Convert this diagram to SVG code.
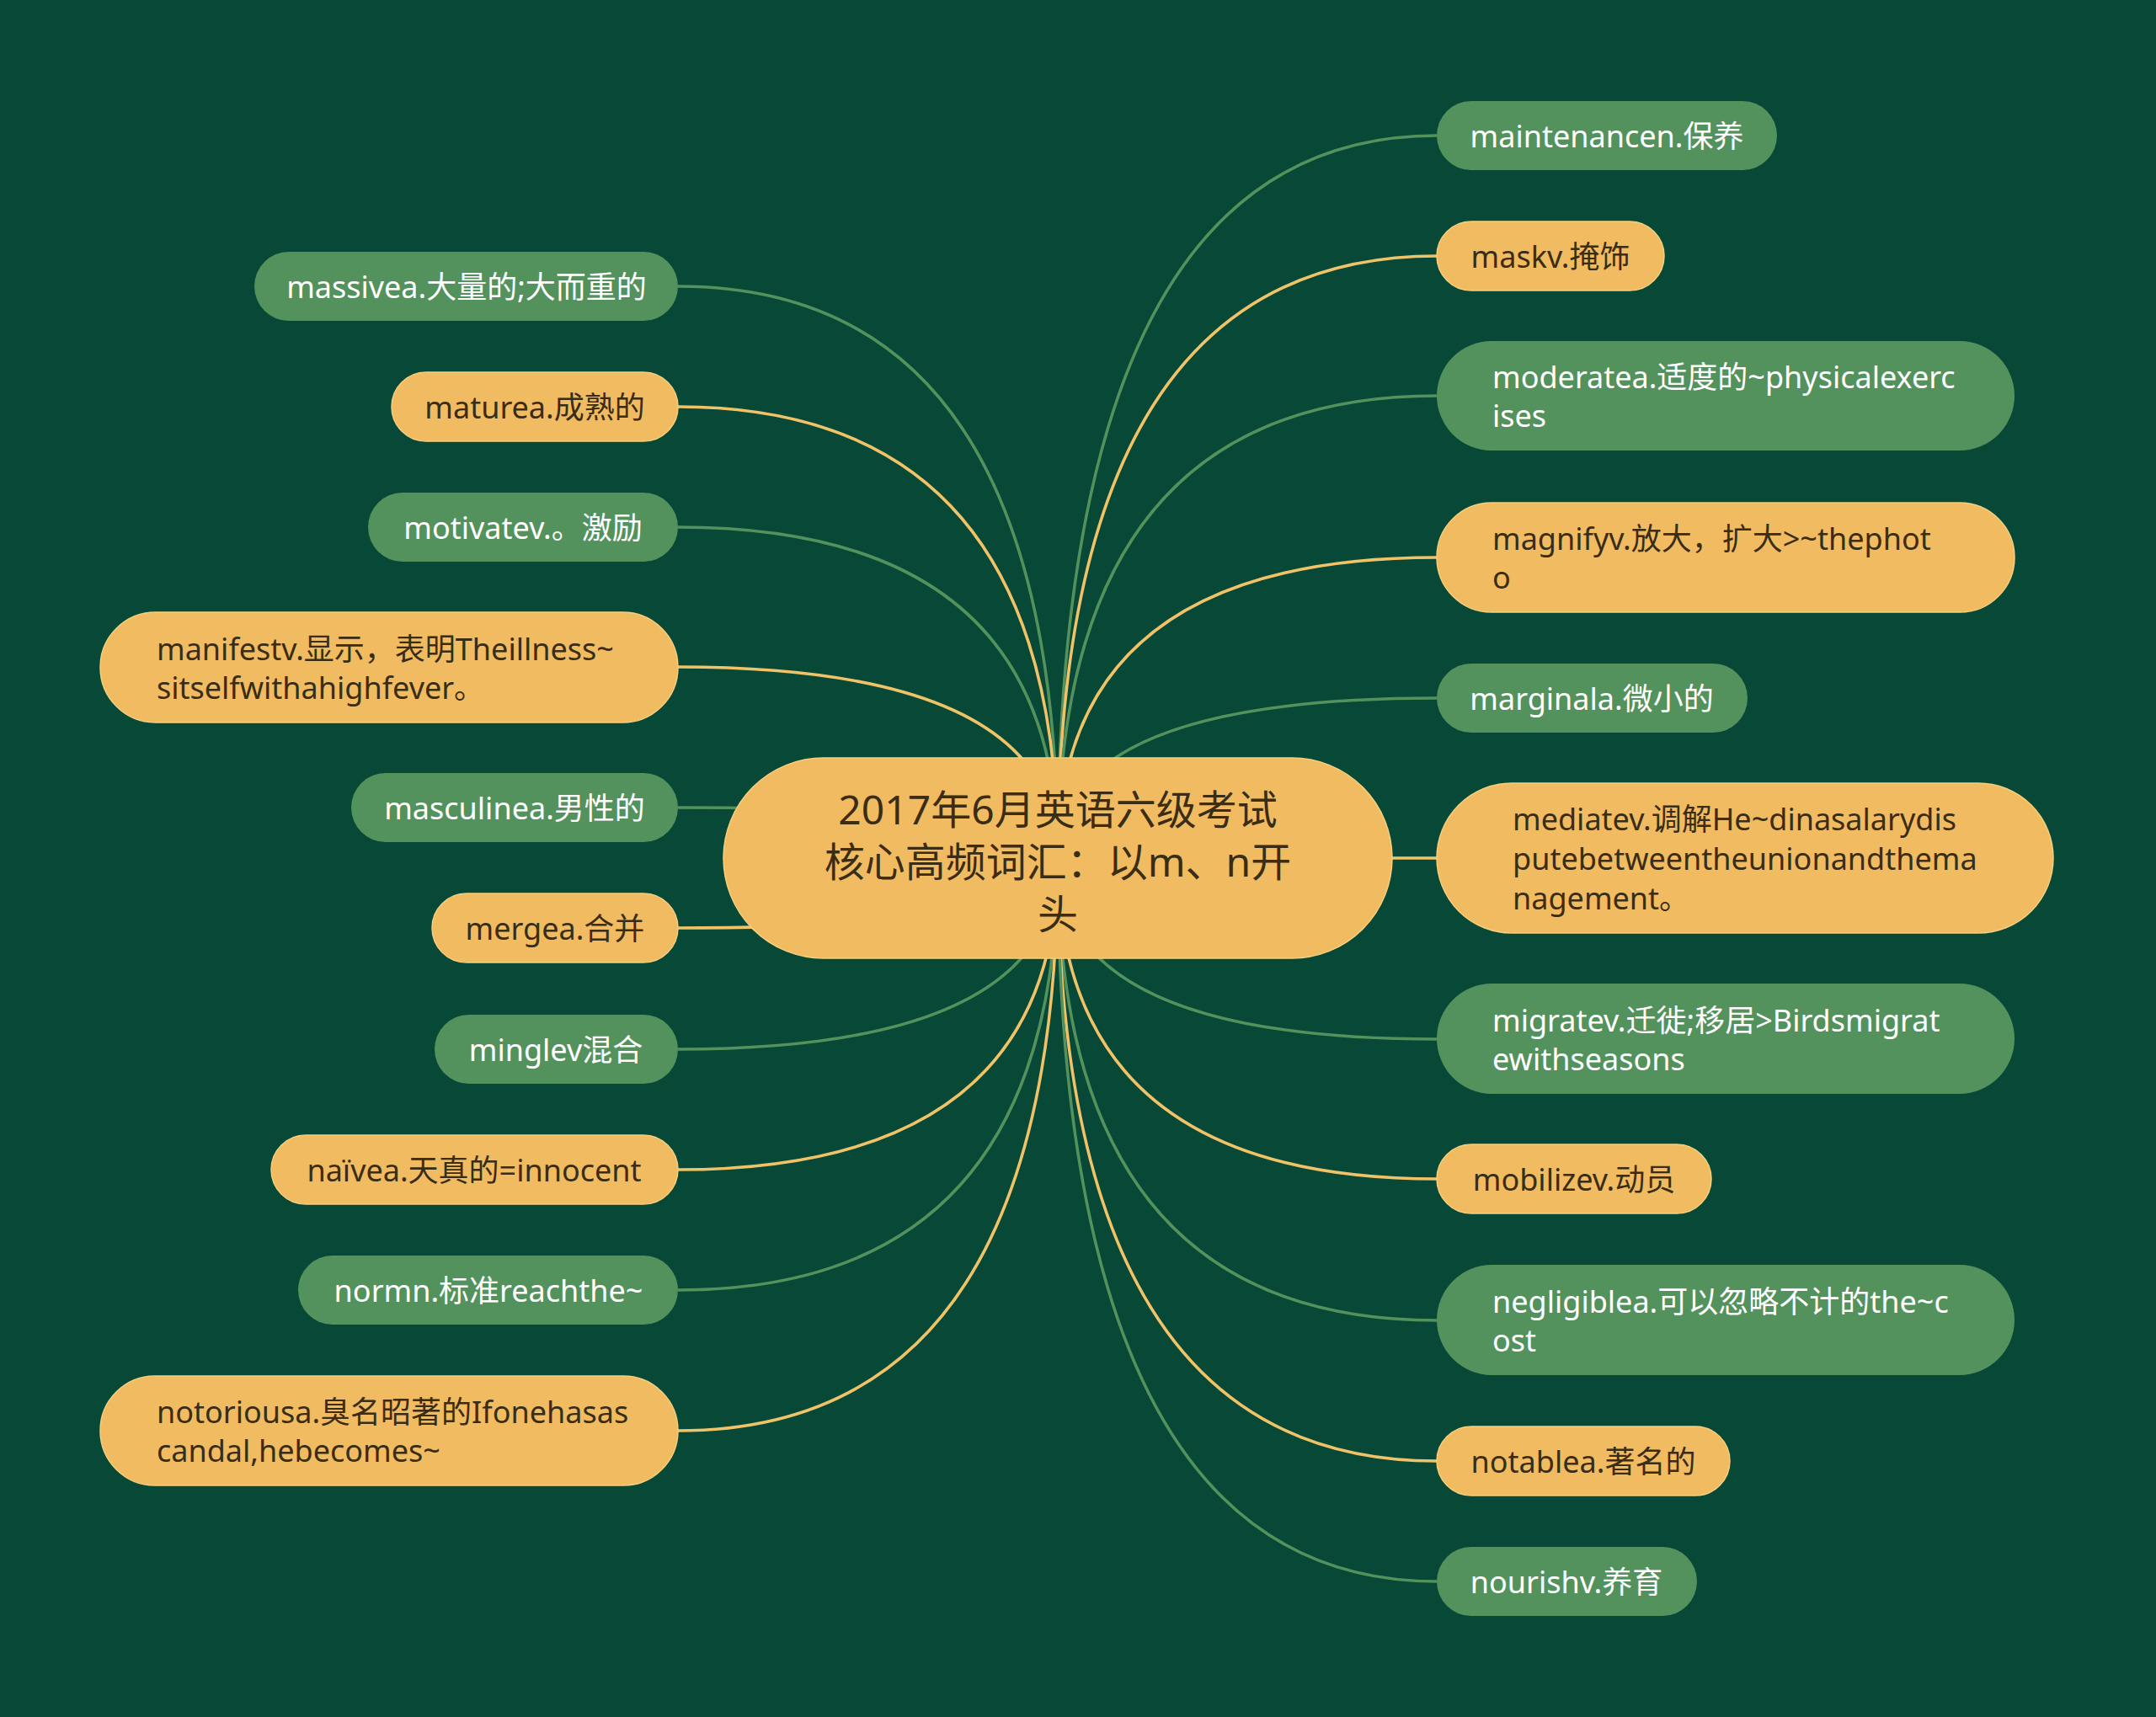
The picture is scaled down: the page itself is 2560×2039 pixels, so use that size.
<svg xmlns="http://www.w3.org/2000/svg" width="2560" height="2039" viewBox="0 0 2560 2039">
<style>
.bg{fill:#084837}
.g{fill:#54925d}
.o{fill:#f1bb62;stroke:#f6cf7c;stroke-width:1.5}
.lg{fill:none;stroke:#54925d;stroke-width:3.5}
.lo{fill:none;stroke:#f1c368;stroke-width:3.5}
text{font-family:"Noto Sans","Noto Sans CJK SC",sans-serif;font-size:36px;dominant-baseline:central}
.tw{fill:#ffffff}
.td{fill:#3a2d14}
.c{text-anchor:middle}
.root{font-size:48px;fill:#3a2d14;text-anchor:middle}
</style>
<rect class="bg" x="0" y="0" width="2560" height="2039"/>
<g id="connectors">
<path class="lg" d="M1256 1019 Q1256 340 805 340"/>
<path class="lo" d="M1256 1019 Q1256 483 805 483"/>
<path class="lg" d="M1256 1019 Q1256 626 805 626"/>
<path class="lo" d="M1256 1019 Q1256 792 805 792"/>
<path class="lg" d="M1256 1019 Q1256 959 805 959"/>
<path class="lo" d="M1256 1019 Q1256 1102 805 1102"/>
<path class="lg" d="M1256 1019 Q1256 1246 805 1246"/>
<path class="lo" d="M1256 1019 Q1256 1389 805 1389"/>
<path class="lg" d="M1256 1019 Q1256 1532 805 1532"/>
<path class="lo" d="M1256 1019 Q1256 1699 805 1699"/>
<path class="lg" d="M1256 1019 Q1256 161 1706 161"/>
<path class="lo" d="M1256 1019 Q1256 304 1706 304"/>
<path class="lg" d="M1256 1019 Q1256 470 1706 470"/>
<path class="lo" d="M1256 1019 Q1256 662 1706 662"/>
<path class="lg" d="M1256 1019 Q1256 829 1706 829"/>
<path class="lo" d="M1256 1019 L1706 1019"/>
<path class="lg" d="M1256 1019 Q1256 1234 1706 1234"/>
<path class="lo" d="M1256 1019 Q1256 1400 1706 1400"/>
<path class="lg" d="M1256 1019 Q1256 1568 1706 1568"/>
<path class="lo" d="M1256 1019 Q1256 1735 1706 1735"/>
<path class="lg" d="M1256 1019 Q1256 1878 1706 1878"/>
</g>
<g id="root">
<rect class="o" x="859" y="900" width="794" height="238" rx="119"/>
<text class="root" x="1256" y="960">2017年6月英语六级考试</text>
<text class="root" x="1256" y="1022">核心高频词汇：以m、n开</text>
<text class="root" x="1256" y="1084">头</text>
</g>
<g id="n-massive"><rect class="g" x="302" y="299" width="503" height="82" rx="41"/><text class="tw c" x="554" y="340">massivea.大量的;大而重的</text></g>
<g id="n-mature"><rect class="o" x="465" y="442" width="340" height="82" rx="41"/><text class="td c" x="635" y="483">maturea.成熟的</text></g>
<g id="n-motivate"><rect class="g" x="437" y="585" width="368" height="82" rx="41"/><text class="tw c" x="621" y="626">motivatev.。激励</text></g>
<g id="n-manifest"><rect class="o" x="119" y="727" width="686" height="131" rx="65.5"/><text class="td" x="186" y="770">manifestv.显示，表明Theillness~</text><text class="td" x="186" y="816">sitselfwithahighfever。</text></g>
<g id="n-masculine"><rect class="g" x="417" y="918" width="388" height="82" rx="41"/><text class="tw c" x="611" y="959">masculinea.男性的</text></g>
<g id="n-merge"><rect class="o" x="513" y="1061" width="292" height="82" rx="41"/><text class="td c" x="659" y="1102">mergea.合并</text></g>
<g id="n-mingle"><rect class="g" x="516" y="1205" width="289" height="82" rx="41"/><text class="tw c" x="660" y="1246">minglev混合</text></g>
<g id="n-naive"><rect class="o" x="322" y="1348" width="483" height="82" rx="41"/><text class="td c" x="563" y="1389">naïvea.天真的=innocent</text></g>
<g id="n-norm"><rect class="g" x="354" y="1491" width="451" height="82" rx="41"/><text class="tw c" x="580" y="1532">normn.标准reachthe~</text></g>
<g id="n-notorious"><rect class="o" x="119" y="1634" width="686" height="130" rx="65"/><text class="td" x="186" y="1676">notoriousa.臭名昭著的Ifonehasas</text><text class="td" x="186" y="1722">candal,hebecomes~</text></g>
<g id="n-maintenance"><rect class="g" x="1706" y="120" width="404" height="82" rx="41"/><text class="tw c" x="1908" y="161">maintenancen.保养</text></g>
<g id="n-mask"><rect class="o" x="1706" y="263" width="270" height="82" rx="41"/><text class="td c" x="1841" y="304">maskv.掩饰</text></g>
<g id="n-moderate"><rect class="g" x="1706" y="405" width="686" height="130" rx="65"/><text class="tw" x="1772" y="447">moderatea.适度的~physicalexerc</text><text class="tw" x="1772" y="493">ises</text></g>
<g id="n-magnify"><rect class="o" x="1706" y="597" width="686" height="130" rx="65"/><text class="td" x="1772" y="639">magnifyv.放大，扩大&gt;~thephot</text><text class="td" x="1772" y="685">o</text></g>
<g id="n-marginal"><rect class="g" x="1706" y="788" width="369" height="82" rx="41"/><text class="tw c" x="1890" y="829">marginala.微小的</text></g>
<g id="n-mediate"><rect class="o" x="1706" y="930" width="732" height="178" rx="89"/><text class="td" x="1796" y="972">mediatev.调解He~dinasalarydis</text><text class="td" x="1796" y="1019">putebetweentheunionandthema</text><text class="td" x="1796" y="1066">nagement。</text></g>
<g id="n-migrate"><rect class="g" x="1706" y="1168" width="686" height="131" rx="65.5"/><text class="tw" x="1772" y="1211">migratev.迁徙;移居&gt;Birdsmigrat</text><text class="tw" x="1772" y="1257">ewithseasons</text></g>
<g id="n-mobilize"><rect class="o" x="1706" y="1359" width="326" height="82" rx="41"/><text class="td c" x="1869" y="1400">mobilizev.动员</text></g>
<g id="n-negligible"><rect class="g" x="1706" y="1502" width="686" height="131" rx="65.5"/><text class="tw" x="1772" y="1545">negligiblea.可以忽略不计的the~c</text><text class="tw" x="1772" y="1591">ost</text></g>
<g id="n-notable"><rect class="o" x="1706" y="1694" width="348" height="82" rx="41"/><text class="td c" x="1880" y="1735">notablea.著名的</text></g>
<g id="n-nourish"><rect class="g" x="1706" y="1837" width="309" height="82" rx="41"/><text class="tw c" x="1860" y="1878">nourishv.养育</text></g>
</svg>
